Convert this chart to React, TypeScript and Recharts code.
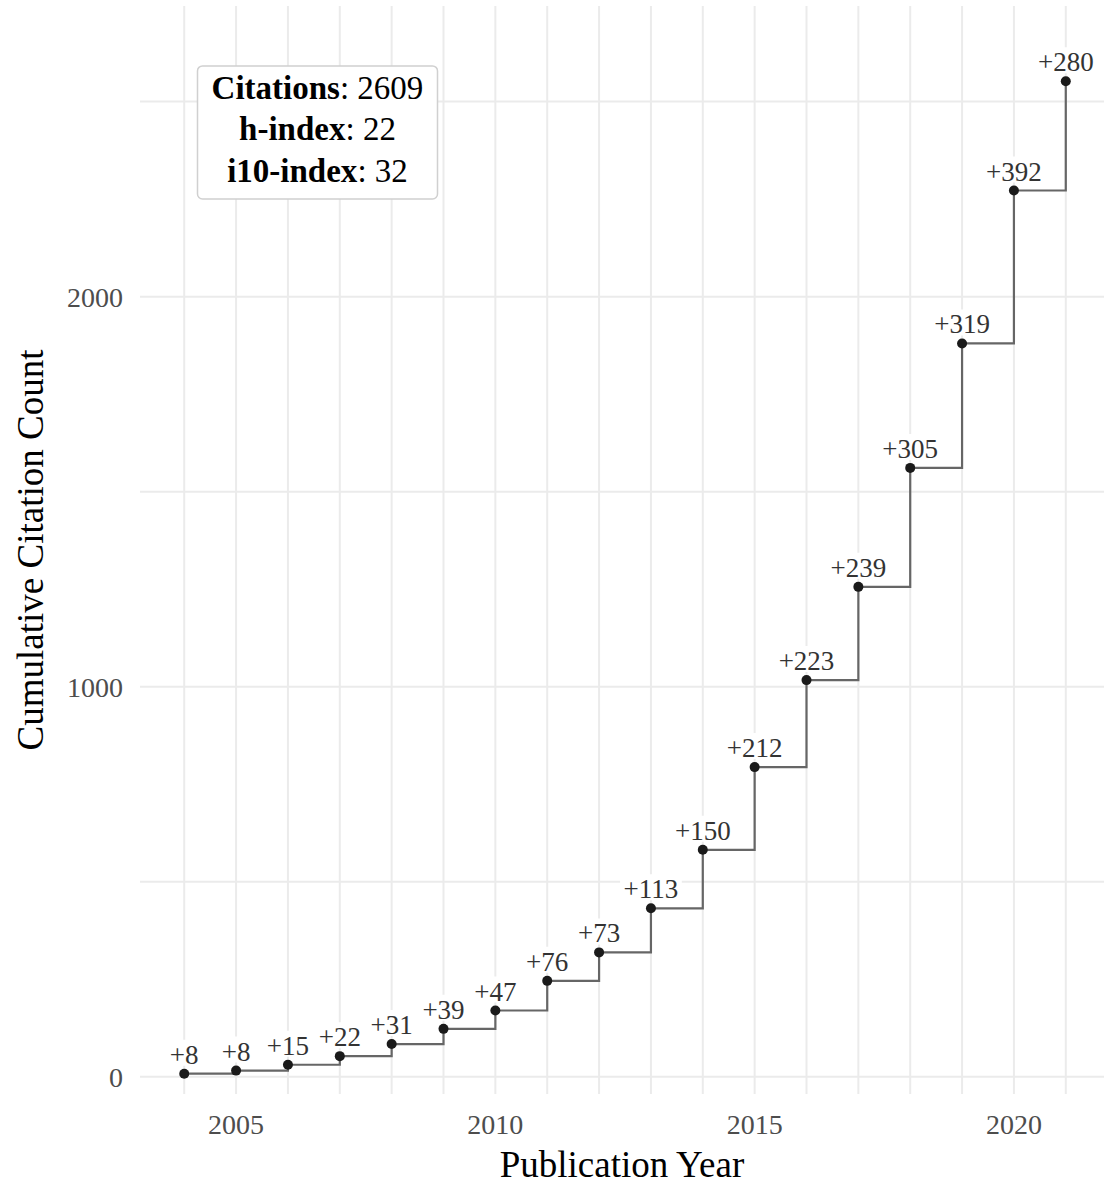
import React from 'react';
import {
  ComposedChart,
  Line,
  XAxis,
  YAxis,
  CartesianGrid,
  LabelList,
  ReferenceDot,
  Label
} from 'recharts';

const years = [2004, 2005, 2006, 2007, 2008, 2009, 2010, 2011, 2012, 2013, 2014, 2015, 2016, 2017, 2018, 2019, 2020, 2021];
const newCitations = [8, 8, 15, 22, 31, 39, 47, 76, 73, 113, 150, 212, 223, 239, 305, 319, 392, 280];
const yTicks = [0, 500, 1000, 1500, 2000, 2500];
const xLabelled = [2005, 2010, 2015, 2020];
const yLabelled = [0, 1000, 2000];
const statLabels = ['Citations', 'h-index', 'i10-index'];
const statValues = [2609, 22, 32];

const FONT = '"Liberation Serif", "DejaVu Serif", serif';

let running = 0;
const data = years.map((year, i) => {
  running += newCitations[i];
  return { year, total: running, label: `+${newCitations[i]}` };
});

const PointLabel = (props: any) => {
  const { x, y, value } = props;
  const fs = 27;
  const w = (0.564 + 0.5 * (String(value).length - 1)) * fs + 6;
  return (
    <g>
      <rect x={x - w / 2} y={y - 34} width={w} height={26} rx={3} fill="#fff" />
      <text x={x} y={y - 10} textAnchor="middle" fontSize={fs} fill="#333" fontFamily={FONT}>
        {value}
      </text>
    </g>
  );
};

const StatsBox = (props: any) => {
  const { cx, cy } = props;
  const w = 240;
  const h = 133;
  const offsets = [-33, 8, 49.5];
  return (
    <g>
      <rect x={cx - w / 2} y={cy - h / 2} width={w} height={h} rx={5} fill="#fff" stroke="#d0d0d0" strokeWidth={1.5} />
      {statLabels.map((l, i) => (
        <text key={l} x={cx} y={cy + offsets[i]} textAnchor="middle" fontSize={33} fill="#000" fontFamily={FONT}>
          <tspan fontWeight="bold">{l}</tspan>
          <tspan>{`: ${statValues[i]}`}</tspan>
        </text>
      ))}
    </g>
  );
};

const App = () => {
  return (
    <div style={{ position: 'absolute', left: 0, top: 0, background: '#fff' }}>
      <ComposedChart
        width={1104}
        height={1187}
        data={data}
        margin={{ top: 6, right: 0, left: 0, bottom: 0 }}
        style={{ fontFamily: FONT }}
      >
        <CartesianGrid stroke="#ebebeb" strokeWidth={2} syncWithTicks />
        <XAxis
          dataKey="year"
          type="number"
          domain={[2003.147, 2021.737]}
          ticks={years}
          allowDataOverflow
          height={93}
          axisLine={false}
          tickLine={false}
          tickSize={0}
          tickMargin={20}
          interval={0}
          tick={{ fill: '#4d4d4d', fontSize: 28, fontFamily: FONT }}
          tickFormatter={(v: number) => (xLabelled.includes(v) ? String(v) : '')}
        >
          <Label
            content={(p: any) => (
              <text
                x={p.viewBox.x + p.viewBox.width / 2}
                y={p.viewBox.y + 83}
                textAnchor="middle"
                fontSize={37}
                fill="#000"
                fontFamily={FONT}
              >
                Publication Year
              </text>
            )}
          />
        </XAxis>
        <YAxis
          type="number"
          domain={[-44, 2745]}
          ticks={yTicks}
          allowDataOverflow
          width={140}
          axisLine={false}
          tickLine={false}
          tickSize={0}
          tickMargin={17}
          interval={0}
          tick={{ fill: '#4d4d4d', fontSize: 28, fontFamily: FONT }}
          tickFormatter={(v: number) => (yLabelled.includes(v) ? String(v) : '')}
        >
          <Label
            content={(p: any) => {
              const cy = p.viewBox.y + p.viewBox.height / 2;
              return (
                <text
                  x={43}
                  y={cy}
                  transform={`rotate(-90, 43, ${cy})`}
                  textAnchor="middle"
                  fontSize={37}
                  fill="#000"
                  fontFamily={FONT}
                >
                  Cumulative Citation Count
                </text>
              );
            }}
          />
        </YAxis>
        <Line
          dataKey="total"
          type="stepAfter"
          stroke="#666"
          strokeWidth={2.2}
          dot={{ r: 5, fill: '#1a1a1a', stroke: '#1a1a1a', strokeWidth: 0 }}
          activeDot={false}
          isAnimationActive={false}
        >
          <LabelList dataKey="label" content={<PointLabel />} />
        </Line>
        <ReferenceDot x={2006.57} y={2421} shape={<StatsBox />} ifOverflow="visible" />
      </ComposedChart>
    </div>
  );
};

export default App;
